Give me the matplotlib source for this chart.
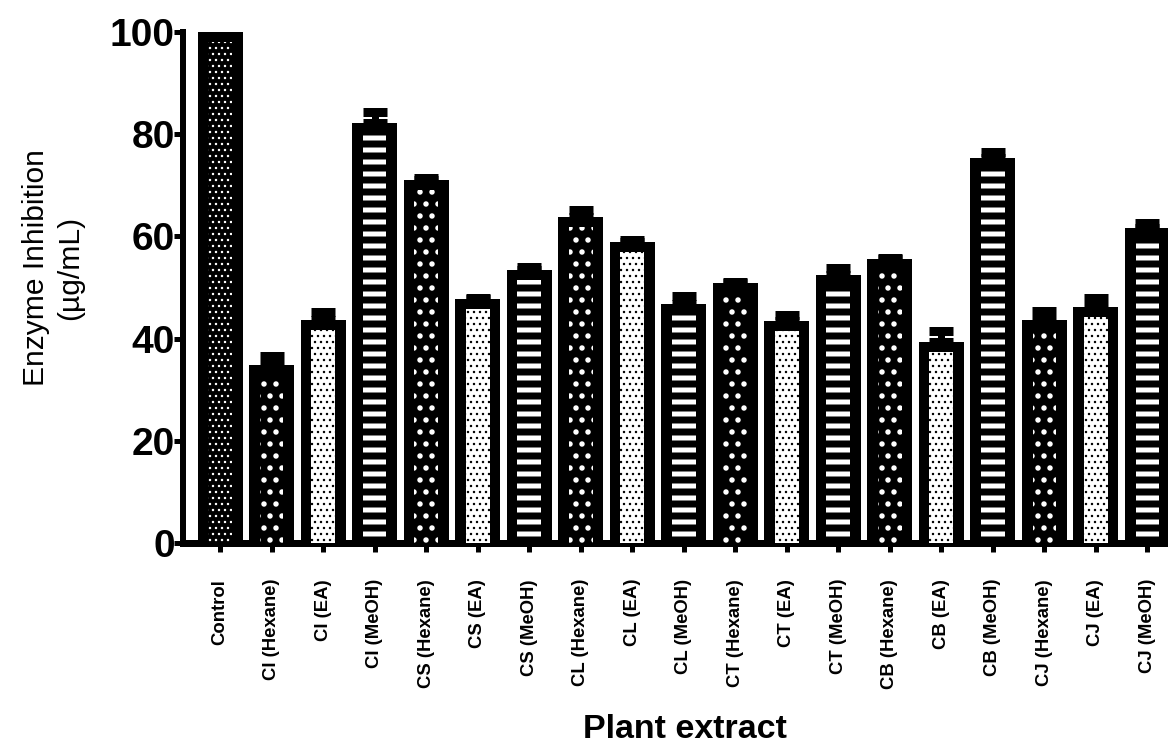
import matplotlib
matplotlib.use('Agg')
import matplotlib.pyplot as plt
import numpy as np

# data
extracts = ['Control',
            'CI (Hexane)', 'CI (EA)', 'CI (MeOH)',
            'CS (Hexane)', 'CS (EA)', 'CS (MeOH)',
            'CL (Hexane)', 'CL (EA)', 'CL (MeOH)',
            'CT (Hexane)', 'CT (EA)', 'CT (MeOH)',
            'CB (Hexane)', 'CB (EA)', 'CB (MeOH)',
            'CJ (Hexane)', 'CJ (EA)', 'CJ (MeOH)']
inhibition = [100.0,
              34.8, 43.6, 82.2,
              71.0, 47.8, 53.4,
              63.8, 58.9, 46.8,
              50.9, 43.4, 52.4,
              55.6, 39.3, 75.3,
              43.6, 46.2, 61.6]
inhibition_err = [0.0,
                  1.7, 1.6, 2.1,
                  0.4, 0.2, 0.6,
                  1.35, 0.4, 1.5,
                  0.2, 1.2, 1.4,
                  0.2, 2.1, 1.3,
                  1.8, 1.7, 1.0]
y_ticks = [0, 20, 40, 60, 80, 100]

plt.rcParams['font.family'] = ['Liberation Sans', 'DejaVu Sans']

DPI = 72  # 1 pt == 1 px, hatch unit == 72 px
W, H = 1168, 751
fig = plt.figure(figsize=(W / DPI, H / DPI), dpi=DPI, facecolor='white')
ax = fig.add_axes([183 / W, (H - 543) / H, 1 - 183 / W, (543 - 32) / H])

# fill pattern per solvent
styles = {
    'Control': dict(face='black', hatch='..', hcolor='white', hlw=1.2),
    'Hexane': dict(face='black', hatch='.', hcolor='white', hlw=3.0),
    'EA': dict(face='white', hatch='..', hcolor='black', hlw=1.2),
    'MeOH': dict(face='black', hatch='-', hcolor='white', hlw=5.0),
}


def solvent(name):
    if '(' not in name:
        return 'Control'
    return name.split('(')[1].rstrip(')')


x = np.arange(len(extracts))
vals = np.array(inhibition)
errs = np.array(inhibition_err)

# outer black bars
ax.bar(x, vals, width=0.87, color='black', linewidth=0, zorder=2)

# inner patterned area
inset = 2.0
for group, st in styles.items():
    idx = [i for i, n in enumerate(extracts) if solvent(n) == group]
    with plt.rc_context({'hatch.linewidth': st['hlw']}):
        bars = ax.bar(x[idx], vals[idx] - inset, width=0.46,
                      color=st['face'], edgecolor=st['hcolor'],
                      hatch=st['hatch'], linewidth=0, zorder=3)
    for b in bars:
        if hasattr(b, 'set_hatch_linewidth'):
            b.set_hatch_linewidth(st['hlw'])

# upper error bars only
ax.errorbar(x, vals, yerr=[np.zeros_like(errs), errs], fmt='none',
            ecolor='black', elinewidth=7, capsize=12, capthick=9, zorder=1)

ax.set_xlim(-0.72, len(extracts) - 0.6)
ax.set_ylim(0, 100)

for side in ['top', 'right']:
    ax.spines[side].set_visible(False)
ax.spines['left'].set_linewidth(6)
ax.spines['bottom'].set_linewidth(7)

ax.set_yticks(y_ticks)
ax.set_yticklabels([str(t) for t in y_ticks], fontsize=39, fontweight='bold')
ax.tick_params(axis='y', length=9, width=5, pad=-1)

ax.set_xticks(x)
ax.set_xticklabels(extracts, rotation=90, fontsize=18.5, fontweight='bold')
ax.tick_params(axis='x', length=9, width=5, pad=27)

ax.set_ylabel('Enzyme Inhibition\n(\u00b5g/mL)', fontsize=30,
              ha='center', va='center', linespacing=1.25)
ax.yaxis.set_label_coords((53 - 183) / (W - 183), 1 - (268 - 32) / 511)

ax.set_xlabel('Plant extract', fontsize=34, fontweight='bold', va='center')
ax.xaxis.set_label_coords((685 - 183) / (W - 183), (543 - 730) / 511)

fig.savefig('out.png', dpi=DPI, facecolor='white')
